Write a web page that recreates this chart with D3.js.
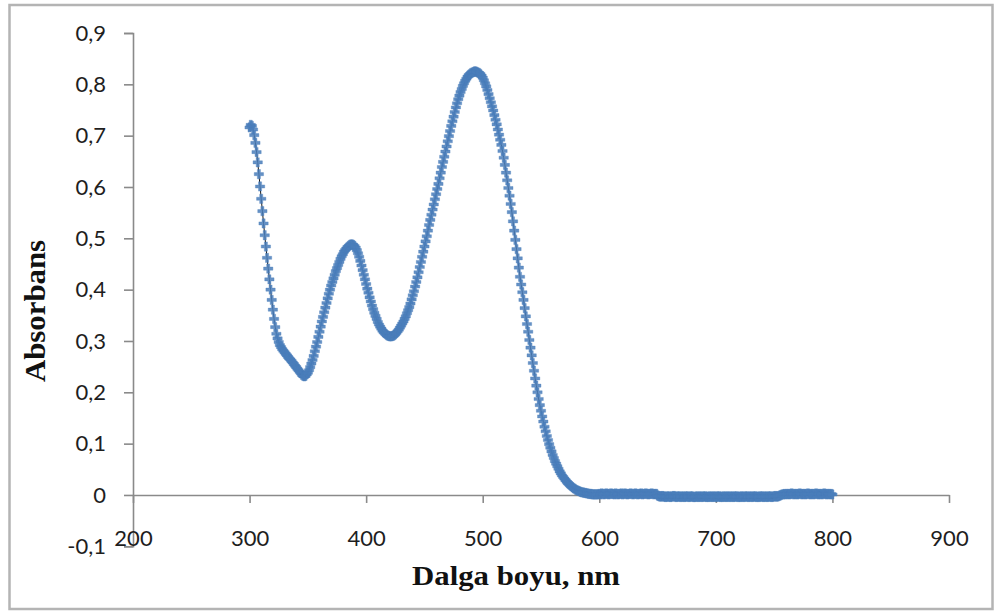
<!DOCTYPE html>
<html>
<head>
<meta charset="utf-8">
<script src="https://cdn.jsdelivr.net/npm/d3@7"></script>
<style>
  html, body { margin: 0; padding: 0; background: #fff; }
  svg { display: block; }
</style>
</head>
<body>
<svg id="chart" width="995" height="612"></svg>
<script>
// ---------- DATA ----------
const xTickValues = [200, 300, 400, 500, 600, 700, 800, 900];
const yTickValues = [-0.1, 0, 0.1, 0.2, 0.3, 0.4, 0.5, 0.6, 0.7, 0.8, 0.9];
const xTitle = "Dalga boyu, nm";
const yTitle = "Absorbans";
const wavelengthStart = 300; // nm, 1 nm step
const absorbance = [
  // 300-329
  0.716,0.721,0.719,0.712,0.701,0.686,0.668,0.648,0.625,0.601,
  0.577,0.553,0.529,0.506,0.484,0.462,0.441,0.420,0.400,0.380,
  0.361,0.343,0.327,0.314,0.305,0.298,0.292,0.288,0.284,0.281,
  // 330-359
  0.278,0.275,0.272,0.269,0.266,0.264,0.261,0.258,0.255,0.252,
  0.249,0.246,0.243,0.240,0.237,0.234,0.232,0.231,0.232,0.235,
  0.238,0.243,0.249,0.256,0.263,0.271,0.280,0.289,0.298,0.308,
  // 360-389
  0.318,0.328,0.338,0.347,0.356,0.365,0.374,0.383,0.392,0.400,
  0.408,0.415,0.422,0.429,0.436,0.442,0.448,0.454,0.460,0.465,
  0.469,0.474,0.477,0.480,0.483,0.485,0.487,0.488,0.488,0.487,
  // 390-419
  0.485,0.482,0.477,0.471,0.464,0.456,0.447,0.438,0.429,0.420,
  0.411,0.402,0.394,0.385,0.377,0.369,0.362,0.355,0.349,0.343,
  0.337,0.332,0.328,0.324,0.320,0.317,0.315,0.313,0.311,0.310,
  // 420-449
  0.309,0.309,0.309,0.310,0.311,0.313,0.316,0.319,0.322,0.326,
  0.330,0.334,0.338,0.343,0.348,0.354,0.360,0.366,0.373,0.381,
  0.389,0.397,0.406,0.415,0.424,0.434,0.444,0.454,0.464,0.474,
  // 450-479
  0.484,0.494,0.504,0.515,0.526,0.536,0.546,0.556,0.566,0.576,
  0.586,0.596,0.606,0.617,0.628,0.639,0.649,0.659,0.669,0.679,
  0.689,0.699,0.709,0.719,0.728,0.737,0.746,0.755,0.763,0.771,
  // 480-509
  0.778,0.785,0.791,0.797,0.802,0.807,0.811,0.815,0.818,0.820,
  0.822,0.823,0.824,0.825,0.825,0.824,0.823,0.822,0.820,0.817,
  0.813,0.808,0.802,0.796,0.789,0.781,0.773,0.765,0.757,0.749,
  // 510-539
  0.740,0.731,0.722,0.712,0.702,0.692,0.682,0.670,0.657,0.643,
  0.628,0.613,0.598,0.583,0.567,0.551,0.533,0.515,0.497,0.479,
  0.461,0.443,0.425,0.410,0.395,0.380,0.364,0.348,0.333,0.318,
  // 540-569
  0.302,0.287,0.272,0.257,0.242,0.227,0.213,0.200,0.187,0.175,
  0.164,0.153,0.143,0.133,0.124,0.115,0.107,0.099,0.092,0.085,
  0.078,0.072,0.066,0.061,0.056,0.051,0.046,0.042,0.038,0.035,
  // 570-599
  0.032,0.029,0.026,0.023,0.021,0.019,0.017,0.015,0.013,0.012,
  0.010,0.009,0.008,0.007,0.006,0.005,0.005,0.004,0.004,0.003,
  0.003,0.002,0.002,0.002,0.001,0.001,0.001,0.001,0.001,0.001,
  // 600-649
  0.002,0.001,0.003,0.002,0.001,0.002,0.003,0.002,0.001,0.002,
  0.003,0.002,0.002,0.001,0.003,0.002,0.001,0.002,0.002,0.003,
  0.001,0.002,0.003,0.002,0.001,0.002,0.002,0.003,0.002,0.001,
  0.002,0.003,0.002,0.001,0.002,0.002,0.003,0.001,0.002,0.002,
  0.003,0.002,0.001,0.002,0.002,0.003,0.002,0.001,0.002,0.002,
  // 650-759
  -0.001,-0.002,-0.003,-0.003,-0.002,-0.003,-0.003,-0.004,-0.003,-0.003,
  -0.003,-0.004,-0.003,-0.003,-0.002,-0.003,-0.004,-0.003,-0.003,-0.003,
  -0.004,-0.003,-0.003,-0.004,-0.003,-0.003,-0.003,-0.004,-0.003,-0.003,
  -0.003,-0.004,-0.004,-0.003,-0.003,-0.004,-0.003,-0.003,-0.004,-0.003,
  -0.003,-0.003,-0.004,-0.003,-0.004,-0.003,-0.003,-0.004,-0.003,-0.003,
  -0.004,-0.003,-0.003,-0.003,-0.004,-0.003,-0.004,-0.003,-0.003,-0.004,
  -0.003,-0.003,-0.004,-0.003,-0.003,-0.004,-0.003,-0.003,-0.003,-0.004,
  -0.003,-0.004,-0.003,-0.003,-0.004,-0.003,-0.003,-0.003,-0.004,-0.003,
  -0.003,-0.004,-0.003,-0.003,-0.003,-0.004,-0.003,-0.004,-0.003,-0.003,
  -0.003,-0.004,-0.003,-0.003,-0.004,-0.003,-0.003,-0.003,-0.004,-0.003,
  -0.003,-0.002,-0.003,-0.003,-0.002,-0.001,0.000,0.001,0.001,0.002,
  // 760-800
  0.001,0.002,0.002,0.001,0.002,0.003,0.002,0.001,0.002,0.002,
  0.001,0.002,0.003,0.002,0.001,0.002,0.002,0.001,0.002,0.003,
  0.002,0.001,0.002,0.002,0.001,0.002,0.003,0.002,0.001,0.002,
  0.002,0.001,0.002,0.003,0.002,0.001,0.002,0.002,0.001,0.002,
  0.001
];

const points = absorbance.map((v, i) => ({ wl: wavelengthStart + i, v }));

// ---------- DRAW ----------
const svg = d3.select("#chart");

svg.append("rect")
  .attr("x", 9.5).attr("y", 5)
  .attr("width", 983).attr("height", 604)
  .attr("fill", "#fff")
  .attr("stroke", "#b4b4b4")
  .attr("stroke-width", 2.5);

const x = d3.scaleLinear().domain([200, 900]).range([133, 949]);
const y = d3.scaleLinear().domain([-0.1, 0.9]).range([546.3, 33]);

const yFmt = d => (Math.abs(d) < 1e-9 ? "0" : d.toFixed(1).replace(".", ","));

const axisColor = "#8a8a8a";
const labelFont = "Lato, 'Liberation Sans', Arial, sans-serif";

// Y axis
const yAxis = svg.append("g")
  .attr("transform", `translate(${x(200)},0)`)
  .call(d3.axisLeft(y).tickValues(yTickValues).tickFormat(yFmt).tickSize(9).tickPadding(18));
yAxis.select(".domain").attr("stroke", axisColor).attr("stroke-width", 1.6);
yAxis.selectAll(".tick line").attr("stroke", axisColor).attr("stroke-width", 1.6);
yAxis.selectAll(".tick text")
  .attr("fill", "#1e1e1e")
  .style("font-family", labelFont)
  .style("font-size", "22px");

// X axis at y = 0
const xAxis = svg.append("g")
  .attr("transform", `translate(0,${y(0)})`)
  .call(d3.axisBottom(x).tickValues(xTickValues).tickFormat(d3.format("d")).tickSize(8).tickSizeOuter(0));
xAxis.select(".domain").attr("stroke", axisColor).attr("stroke-width", 1.6);
xAxis.selectAll(".tick line").attr("stroke", axisColor).attr("stroke-width", 1.6);
xAxis.selectAll(".tick text")
  .attr("fill", "#1e1e1e")
  .attr("y", 0)
  .attr("dy", "0.35em")
  .attr("transform", `translate(0,${y(-0.1) - y(0) - 8})`)
  .style("font-family", labelFont)
  .style("font-size", "22px");

// Series: thin dark line + blue cross markers
const line = d3.line().x(d => x(d.wl)).y(d => y(d.v));
svg.append("path")
  .datum(points)
  .attr("fill", "none")
  .attr("stroke", "#1a1a1a")
  .attr("stroke-width", 1)
  .attr("d", line);

const sym = d3.symbol().type(d3.symbolCross).size(48);
svg.append("g")
  .selectAll("path")
  .data(points)
  .join("path")
  .attr("transform", d => `translate(${x(d.wl)},${y(d.v)})`)
  .attr("d", sym)
  .attr("fill", "#4a7ebb")
  .attr("fill-opacity", 0.85)
  .attr("stroke", "#4a7ebb")
  .attr("stroke-opacity", 0.35)
  .attr("stroke-width", 1);

// Axis titles
svg.append("text")
  .attr("x", 516).attr("y", 585)
  .attr("text-anchor", "middle")
  .attr("textLength", 208)
  .attr("lengthAdjust", "spacingAndGlyphs")
  .style("font-family", "'Liberation Serif', 'Times New Roman', serif")
  .style("font-weight", "bold")
  .style("font-size", "27px")
  .attr("fill", "#111")
  .text(xTitle);

svg.append("text")
  .attr("transform", "translate(45,311) rotate(-90)")
  .attr("text-anchor", "middle")
  .attr("textLength", 142)
  .attr("lengthAdjust", "spacingAndGlyphs")
  .style("font-family", "'Liberation Serif', 'Times New Roman', serif")
  .style("font-weight", "bold")
  .style("font-size", "30px")
  .attr("fill", "#111")
  .text(yTitle);
</script>
</body>
</html>
